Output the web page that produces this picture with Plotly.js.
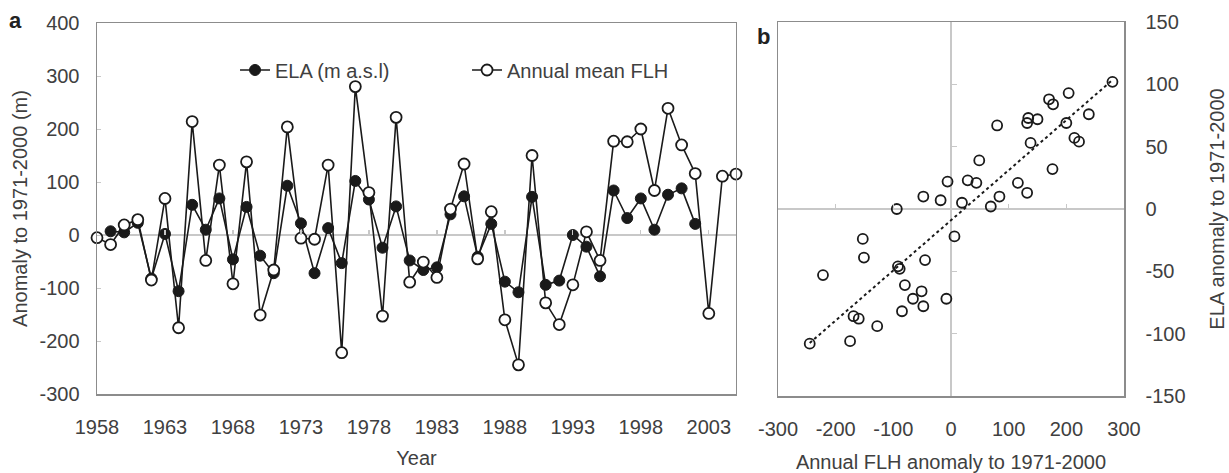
<!DOCTYPE html>
<html>
<head>
<meta charset="utf-8">
<script src="https://cdn.plot.ly/plotly-3.0.1.min.js"></script>
<style>
  html, body { margin: 0; padding: 0; background: #ffffff; }
  #chart { width: 1229px; height: 473px; }
</style>
</head>
<body>
<div id="chart"></div>
<script>
// ---- Data ----
const years = [1958, 1959, 1960, 1961, 1962, 1963, 1964, 1965, 1966, 1967,
               1968, 1969, 1970, 1971, 1972, 1973, 1974, 1975, 1976, 1977,
               1978, 1979, 1980, 1981, 1982, 1983, 1984, 1985, 1986, 1987,
               1988, 1989, 1990, 1991, 1992, 1993, 1994, 1995, 1996, 1997,
               1998, 1999, 2000, 2001, 2002, 2003, 2004, 2005];

// Annual mean freezing-level height anomaly (m)
const flhAnomaly = [-5, -18, 19, 29, -85, 69, -175, 214, -48, 132,
                    -92, 138, -151, -66, 204, -6, -8, 132, -222, 280,
                    80, -153, 222, -89, -51, -80, 49, 134, -45, 44,
                    -160, -245, 150, -128, -169, -94, 6, -48, 177, 176,
                    200, 84, 239, 170, 116, -148, 111, 115];

// ELA anomaly (m a.s.l.)
const elaAnomaly = [null, 7, 5, 23, -82, 2, -106, 57, 10, 69,
                    -46, 53, -39, -72, 93, 22, -72, 13, -53, 102,
                    67, -24, 54, -48, -66, -61, 39, 73, -41, 21,
                    -88, -108, 72, -94, -86, 0, -22, -78, 84, 32,
                    69, 10, 76, 88, 21, null, null, null];

const seriesNames = ['ELA (m a.s.l)', 'Annual mean FLH'];
const panelLabels = ['a', 'b'];

// Tick values and labels (hyphen minus as in the original)
const yearTicks = [1958, 1963, 1968, 1973, 1978, 1983, 1988, 1993, 1998, 2003];
const yearTickLabels = ['1958', '1963', '1968', '1973', '1978', '1983', '1988', '1993', '1998', '2003'];
const anomalyTicks = [-300, -200, -100, 0, 100, 200, 300, 400];
const anomalyTickLabels = ['-300', '-200', '-100', '0', '100', '200', '300', '400'];
const flhTicks = [-300, -200, -100, 0, 100, 200, 300];
const flhTickLabels = ['-300', '-200', '-100', '0', '100', '200', '300'];
const elaTicks = [-150, -100, -50, 0, 50, 100, 150];
const elaTickLabels = ['-150', '-100', '-50', '0', '50', '100', '150'];

// ---- Scatter pairs (years with both values) and least-squares fit ----
const pairX = [], pairY = [];
for (let i = 0; i < years.length; i++) {
  if (elaAnomaly[i] !== null && flhAnomaly[i] !== null) {
    pairX.push(flhAnomaly[i]);
    pairY.push(elaAnomaly[i]);
  }
}
const n = pairX.length;
const mx = pairX.reduce((a, b) => a + b, 0) / n;
const my = pairY.reduce((a, b) => a + b, 0) / n;
let sxy = 0, sxx = 0;
for (let i = 0; i < n; i++) { sxy += (pairX[i] - mx) * (pairY[i] - my); sxx += (pairX[i] - mx) ** 2; }
const slope = sxy / sxx, intercept = my - slope * mx;
const fitX = [Math.min(...pairX), Math.max(...pairX)];
const fitY = fitX.map(v => intercept + slope * v);

const ink = '#1a1a1a';
const textCol = '#404040';
const frameCol = '#8c8c8c';
const zeroCol = '#c8c8c8';
const FONT = 'Liberation Sans, Arial, sans-serif';

const traces = [
  {
    x: years, y: elaAnomaly, name: seriesNames[0], type: 'scatter', mode: 'lines+markers',
    xaxis: 'x', yaxis: 'y', legend: 'legend', cliponaxis: false,
    line: { color: ink, width: 1.6 },
    marker: { symbol: 'circle', size: 11, color: ink, line: { color: ink, width: 1 } }
  },
  {
    x: years, y: flhAnomaly, name: seriesNames[1], type: 'scatter', mode: 'lines+markers',
    xaxis: 'x', yaxis: 'y', legend: 'legend2', cliponaxis: false,
    line: { color: ink, width: 1.6 },
    marker: { symbol: 'circle', size: 11, color: '#ffffff', line: { color: ink, width: 1.8 } }
  },
  {
    x: fitX, y: fitY, type: 'scatter', mode: 'lines', showlegend: false,
    xaxis: 'x2', yaxis: 'y2', hoverinfo: 'skip',
    line: { color: ink, width: 2, dash: 'dot' }
  },
  {
    x: pairX, y: pairY, type: 'scatter', mode: 'markers', showlegend: false,
    xaxis: 'x2', yaxis: 'y2', cliponaxis: false,
    marker: { symbol: 'circle-open', size: 10, color: ink, line: { color: ink, width: 1.8 } }
  },
  // empty placeholder traces so that the tick-only axes on the zero lines get drawn
  { x: [], y: [], type: 'scatter', mode: 'markers', showlegend: false, hoverinfo: 'skip', xaxis: 'x3', yaxis: 'y' },
  { x: [], y: [], type: 'scatter', mode: 'markers', showlegend: false, hoverinfo: 'skip', xaxis: 'x4', yaxis: 'y2' },
  { x: [], y: [], type: 'scatter', mode: 'markers', showlegend: false, hoverinfo: 'skip', xaxis: 'x2', yaxis: 'y4' }
];

const axisCommon = {
  showgrid: false, showline: true, mirror: true, linecolor: frameCol, linewidth: 1.5,
  tickfont: { family: FONT, size: 20, color: textCol }, fixedrange: true, automargin: false
};
const titleFont = { family: FONT, size: 20, color: textCol };

// plot-area domains
const xDomA = [0, 0.6222], yDomA = [0.0053, 0.9973];
const xDomB = [0.6631, 1], yDomB = [0, 1];
const yRangeA = [-300, 400], xRangeB = [-300, 300], yRangeB = [-150, 150];
// where the zero lines sit, as fractions of the paper (for the tick-only axes on them)
const zeroPosA = yDomA[0] + (0 - yRangeA[0]) / (yRangeA[1] - yRangeA[0]) * (yDomA[1] - yDomA[0]);
const zeroPosBy = yDomB[0] + (0 - yRangeB[0]) / (yRangeB[1] - yRangeB[0]) * (yDomB[1] - yDomB[0]);
const zeroPosBx = xDomB[0] + (0 - xRangeB[0]) / (xRangeB[1] - xRangeB[0]) * (xDomB[1] - xDomB[0]);

const tickOnly = {
  showgrid: false, showline: false, zeroline: false, showticklabels: false,
  ticks: 'inside', ticklen: 5, tickwidth: 1.3, tickcolor: zeroCol, fixedrange: true, automargin: false
};

const layout = {
  width: 1229, height: 473,
  margin: { l: 97, r: 105, t: 22, b: 77, pad: 0, autoexpand: false },
  paper_bgcolor: '#ffffff', plot_bgcolor: '#ffffff',
  font: { family: FONT, size: 20, color: textCol },
  showlegend: true,
  xaxis: Object.assign({}, axisCommon, {
    domain: xDomA, anchor: 'y', range: [1958, 2005],
    tickmode: 'array', tickvals: yearTicks, ticktext: yearTickLabels,
    zeroline: false, ticks: '', ticklabelstandoff: 14,
    title: { text: 'Year', font: titleFont, standoff: 14 }
  }),
  yaxis: Object.assign({}, axisCommon, {
    domain: yDomA, anchor: 'x', range: yRangeA,
    tickmode: 'array', tickvals: anomalyTicks, ticktext: anomalyTickLabels,
    zeroline: true, zerolinecolor: zeroCol, zerolinewidth: 1.5,
    ticks: 'inside', ticklen: 4, tickcolor: zeroCol, ticklabelstandoff: 12,
    title: { text: 'Anomaly to 1971-2000 (m)', font: titleFont, standoff: 6 }
  }),
  xaxis2: Object.assign({}, axisCommon, {
    domain: xDomB, anchor: 'y2', range: xRangeB,
    tickmode: 'array', tickvals: flhTicks, ticktext: flhTickLabels,
    zeroline: true, zerolinecolor: zeroCol, zerolinewidth: 1.5, ticks: '', ticklabelstandoff: 14,
    title: { text: 'Annual FLH anomaly to 1971-2000', font: titleFont, standoff: 16 }
  }),
  yaxis2: Object.assign({}, axisCommon, {
    domain: yDomB, anchor: 'x2', side: 'right', range: yRangeB,
    tickmode: 'array', tickvals: elaTicks, ticktext: elaTickLabels,
    zeroline: true, zerolinecolor: zeroCol, zerolinewidth: 1.5, ticks: '', ticklabelstandoff: 16,
    title: { text: 'ELA anomaly to 1971-2000', font: titleFont, standoff: 25 }
  }),
  // tick marks sitting on the zero lines (as in the original Excel axes)
  xaxis3: Object.assign({}, tickOnly, {
    overlaying: 'x', anchor: 'free', position: zeroPosA, side: 'bottom',
    range: [1958, 2005], tickmode: 'array', tickvals: yearTicks
  }),
  xaxis4: Object.assign({}, tickOnly, {
    overlaying: 'x2', anchor: 'free', position: zeroPosBy, side: 'bottom',
    range: xRangeB, tickmode: 'array', tickvals: flhTicks
  }),
  yaxis4: Object.assign({}, tickOnly, {
    overlaying: 'y2', anchor: 'free', position: zeroPosBx, side: 'left',
    range: yRangeB, tickmode: 'array', tickvals: elaTicks
  }),
  legend: {
    xref: 'paper', yref: 'paper', x: 0.1344, y: 0.8717, xanchor: 'left', yanchor: 'middle',
    orientation: 'h', bgcolor: 'rgba(0,0,0,0)', borderwidth: 0,
    font: { family: FONT, size: 20, color: textCol }
  },
  legend2: {
    xref: 'paper', yref: 'paper', x: 0.3603, y: 0.8717, xanchor: 'left', yanchor: 'middle',
    orientation: 'h', bgcolor: 'rgba(0,0,0,0)', borderwidth: 0,
    font: { family: FONT, size: 20, color: textCol }
  },
  annotations: [
    { text: panelLabels[0], xref: 'paper', yref: 'paper', x: -0.0798, y: 1.005, xanchor: 'center', yanchor: 'middle',
      showarrow: false, font: { family: FONT, size: 22, color: '#222222', weight: 'bold' } },
    { text: panelLabels[1], xref: 'paper', yref: 'paper', x: 0.6485, y: 0.962, xanchor: 'center', yanchor: 'middle',
      showarrow: false, font: { family: FONT, size: 22, color: '#222222', weight: 'bold' } }
  ]
};

Plotly.newPlot('chart', traces, layout, { staticPlot: true, displayModeBar: false });
</script>
</body>
</html>
